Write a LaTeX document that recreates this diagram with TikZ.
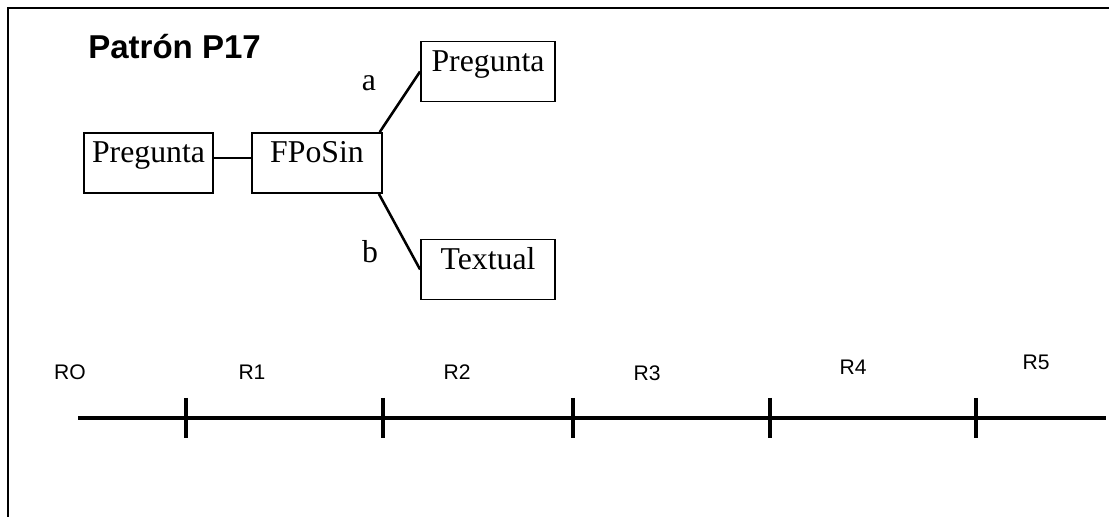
\documentclass[tikz,border=0pt]{standalone}
\usepackage{fontspec}
\setmainfont{Liberation Serif}
\setsansfont{Liberation Sans}
\usetikzlibrary{positioning}

\begin{document}
\begin{tikzpicture}[
  box/.style={draw,line width=1.3pt,inner xsep=0pt,inner ysep=0pt,minimum width=#1,
    text height=0.75cm,text depth=0.75cm,font=\fontsize{22.6}{26}\selectfont},
  box/.default=3.25cm,
  lbl/.style={font=\fontsize{22.6}{26}\selectfont},
  seg/.style={font=\sffamily\fontsize{15}{17}\selectfont},
  link/.style={line width=1.8pt},
  axis/.style={line width=2.8pt},
  tick/.style={line width=2.2pt}]
\useasboundingbox (0,0) rectangle (27.725,12.925);
% frame (only the top and left edges are on the page)
\draw[line width=1.2pt] (0.2,0) -- (0.2,12.725) -- (27.725,12.725);
\node[anchor=base west,inner sep=0pt,font=\sffamily\bfseries\fontsize{23.5}{27}\selectfont] (title) at (2.2,11.45) {Patrón P17};

% pattern tree
\node[box=3.225cm] (qpre) at (3.7125,8.85) {Pregunta};
\node[box] (fpos) at (7.925,8.85) {FPoSin};
\node[box=3.35cm] (qtop) at (12.2,11.1375) {Pregunta};
\node[box=3.35cm] (qtext) at (12.2,6.1875) {Textual};
\draw[link] ([yshift=0.12cm]qpre.east) -- ([yshift=0.12cm]fpos.west);
\draw[link] ([xshift=-0.08cm]fpos.north east) -- (qtop.west);
\draw[link] ([xshift=-0.1cm]fpos.south east) -- (qtext.west);
\node[lbl] (la) at (9.225,10.85) {a};
\node[lbl] (lb) at (9.25,6.625) {b};

% segment axis
\coordinate (axl) at (1.95,2.475);
\coordinate (axr) at (27.65,2.475);
\draw[axis] (axl) -- (axr);
\foreach \x [count=\i] in {4.65,9.575,14.325,19.25,24.4} {
  \coordinate (t\i) at (\x,2.475);
  \draw[tick] ([yshift=0.5cm]t\i) -- ([yshift=-0.5cm]t\i);
}
\foreach \n/\t/\x/\y in {0/RO/1.75/3.625,1/R1/6.3/3.625,2/R2/11.425/3.625,3/R3/16.175/3.6,4/R4/21.325/3.75,5/R5/25.9/3.875}
  \node[seg] (r\n) at (\x,\y) {\t};
\end{tikzpicture}
\end{document}
